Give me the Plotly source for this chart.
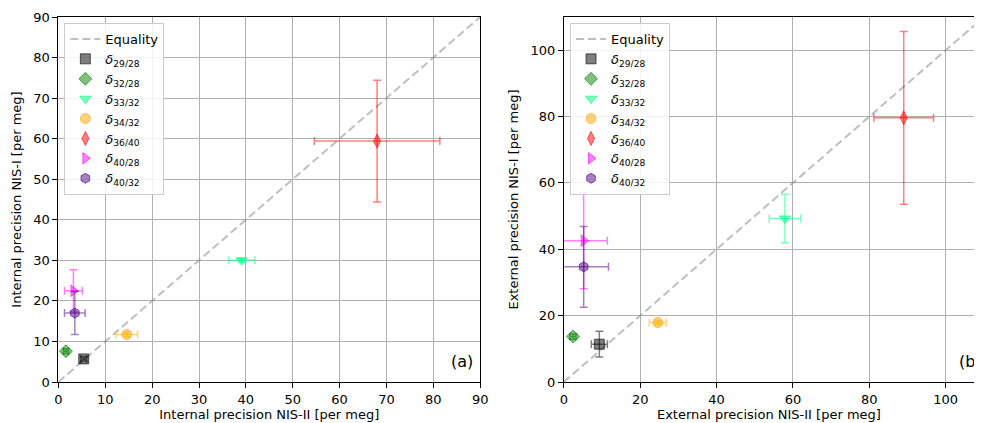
import plotly.graph_objects as go

# ---- data ----
subscripts = ["29/28", "32/28", "33/32", "34/32", "36/40", "40/28", "40/32"]
symbols = ["square", "diamond", "triangle-down", "circle", "diamond-tall", "triangle-right", "hexagon"]
colors = [(0, 0, 0), (0, 128, 0), (0, 255, 127), (255, 165, 0), (255, 0, 0), (255, 0, 255), (75, 0, 130)]

int_x = [5.4, 1.6, 39.1, 14.6, 68.0, 3.2, 3.5]
int_xerr = [0.6, 0.5, 2.8, 2.3, 13.4, 1.9, 2.2]
int_y = [5.7, 7.6, 30.0, 11.7, 59.4, 22.5, 17.0]
int_yerr = [0.5, 0.6, 0.5, 0.6, 15.0, 5.2, 5.3]

ext_x = [9.3, 2.4, 57.9, 24.6, 89.0, 5.2, 5.2]
ext_xerr = [2.1, 0.8, 4.1, 2.2, 7.8, 6.2, 6.5]
ext_y = [11.4, 13.7, 49.3, 17.9, 79.6, 42.6, 34.7]
ext_yerr = [3.9, 0.8, 7.3, 0.6, 26.0, 14.5, 12.2]

# the page body keeps its default 8px margin, so positions are shifted by 8px
OFF = 8
W, H = 982 - OFF, 423 - OFF
TOP, BOT = 17, 382
PH = BOT - TOP
FONT = "DejaVu Sans"


def px(x):
    return (x - OFF) / W


def py(y):
    return (BOT - y) / PH


def rgba(c, a):
    return "rgba(%d,%d,%d,%.2f)" % (c[0], c[1], c[2], a)


fig = go.Figure()

panels = [
    dict(x=int_x, xe=int_xerr, y=int_y, ye=int_yerr, xa="x", ya="y", lg="legend", lim=90),
    dict(x=ext_x, xe=ext_xerr, y=ext_y, ye=ext_yerr, xa="x2", ya="y2", lg="legend2", lim=110),
]

for p in panels:
    fig.add_trace(go.Scatter(
        x=[0, p["lim"]], y=[0, p["lim"]], mode="lines", name="Equality",
        line=dict(color="rgba(128,128,128,0.5)", width=2, dash="8px,4px"),
        xaxis=p["xa"], yaxis=p["ya"], legend=p["lg"], cliponaxis=True,
    ))
    for i, s in enumerate(subscripts):
        c = colors[i]
        fig.add_trace(go.Scatter(
            x=[p["x"][i]], y=[p["y"][i]], mode="markers",
            name="<i>δ</i><sub>%s</sub>" % s,
            marker=dict(symbol=symbols[i], size=10, color=rgba(c, 0.5),
                        line=dict(color=rgba(c, 0.6), width=1)),
            error_x=dict(type="data", array=[p["xe"][i]], color=rgba(c, 0.5), thickness=1.5, width=4),
            error_y=dict(type="data", array=[p["ye"][i]], color=rgba(c, 0.5), thickness=1.5, width=4),
            xaxis=p["xa"], yaxis=p["ya"], legend=p["lg"], cliponaxis=True,
        ))

x1d = [px(55), px(482)]
x2d = [px(566.7), 1.0]

axis_common = dict(
    showline=True, linecolor="black", linewidth=1,
    ticks="outside", ticklen=5, tickwidth=1, tickcolor="black",
    showgrid=True, gridcolor="#b0b0b0", gridwidth=1,
    zeroline=False, tickfont=dict(family=FONT, size=13, color="black"),
)

fig.update_layout(
    width=W, height=H,
    margin=dict(l=0, r=0, t=TOP - OFF, b=H - (BOT - OFF)),
    plot_bgcolor="white", paper_bgcolor="white",
    font=dict(family=FONT, size=13, color="black"),
    xaxis=dict(domain=x1d, range=[0, 90], dtick=10, anchor="y", mirror=True,
               title=dict(text="Internal precision NIS-II [per meg]", font=dict(size=13), standoff=4),
               **axis_common),
    yaxis=dict(domain=[0, 1], range=[0, 90], dtick=10, anchor="x", mirror=True,
               title=dict(text="Internal precision NIS-I [per meg]", font=dict(size=13), standoff=8),
               **axis_common),
    # right panel is cropped at the picture edge: no right-hand spine visible
    xaxis2=dict(domain=x2d, range=[0, 107.4], dtick=20, anchor="y2", mirror=True,
                title=dict(text="External precision NIS-II [per meg]", font=dict(size=13), standoff=4),
                **axis_common),
    yaxis2=dict(domain=[0, 1], range=[0, 110], dtick=20, anchor="x2", mirror=False,
                title=dict(text="External precision NIS-I [per meg]", font=dict(size=13), standoff=8),
                **axis_common),
    legend=dict(x=px(61), y=py(23), xanchor="left", yanchor="top",
                bgcolor="rgba(255,255,255,0.85)", bordercolor="#cccccc", borderwidth=1,
                font=dict(family=FONT, size=13), tracegroupgap=0),
    legend2=dict(x=px(573), y=py(23), xanchor="left", yanchor="top",
                 bgcolor="rgba(255,255,255,0.85)", bordercolor="#cccccc", borderwidth=1,
                 font=dict(family=FONT, size=13), tracegroupgap=0),
    showlegend=True,
    annotations=[
        dict(text="(a)", xref="paper", yref="paper", x=px(477), y=py(373),
             xanchor="right", yanchor="bottom", showarrow=False,
             font=dict(family=FONT, size=16, color="black")),
        dict(text="(b)", xref="paper", yref="paper", x=px(965), y=py(373),
             xanchor="left", yanchor="bottom", showarrow=False,
             font=dict(family=FONT, size=16, color="black")),
    ],
)

fig.write_html("out.html", config={"displayModeBar": False})
